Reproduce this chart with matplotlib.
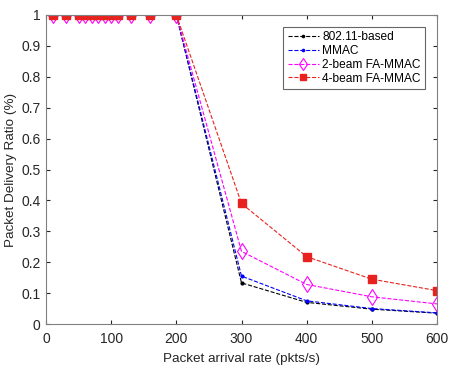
import matplotlib
matplotlib.use("Agg")
import matplotlib.pyplot as plt

plt.rcParams['font.family'] = ['Liberation Sans', 'DejaVu Sans']

x = [10, 30, 50, 60, 70, 80, 90, 100, 110, 130, 160, 200, 300, 400, 500, 600]
pdr_80211 = [1]*12 + [0.133, 0.070, 0.048, 0.035]
pdr_mmac = [1]*12 + [0.155, 0.075, 0.050, 0.036]
pdr_2beam = [1]*12 + [0.235, 0.128, 0.088, 0.065]
pdr_4beam = [1]*12 + [0.390, 0.218, 0.145, 0.108]

labels = ['802.11-based', 'MMAC', '2-beam FA-MMAC', '4-beam FA-MMAC']
xticks = [0, 100, 200, 300, 400, 500, 600]
yticks = [0, 0.1, 0.2, 0.3, 0.4, 0.5, 0.6, 0.7, 0.8, 0.9, 1]

fig = plt.figure(figsize=(4.58, 3.72), dpi=100)
ax = fig.add_axes([46/458, 1-324/372, (437-46)/458, (324-15)/372])

ax.plot(x, pdr_80211, '--', color='black', marker='.', markersize=4, lw=0.8, label=labels[0])
ax.plot(x, pdr_mmac, '--', color='blue', marker='.', markersize=4, lw=0.8, label=labels[1])
ax.plot(x, pdr_2beam, '--', color='#ff00ff', marker='d', markersize=8, mfc='none', mew=0.8, lw=0.8, label=labels[2])
ax.plot(x, pdr_4beam, '--', color='#e8231f', marker='s', markersize=6, mfc='#e8231f', lw=0.8, label=labels[3])

ax.set_xlim(0, 600)
ax.set_ylim(0, 1)
ax.set_xticks(xticks)
ax.set_yticks(yticks)
ax.set_yticklabels([f'{v:g}' for v in yticks])
ax.tick_params(direction='in', labelsize=10, colors='#262626', length=3, top=True, right=True,
               labeltop=False, labelright=False)
ax.tick_params(axis='x', pad=6)
ax.tick_params(axis='y', pad=4)
for s in ax.spines.values():
    s.set_color('#808080')
    s.set_linewidth(0.8)
ax.set_xlabel('Packet arrival rate (pkts/s)', fontsize=9.7, color='#262626', labelpad=5)
ax.set_ylabel('Packet Delivery Ratio (%)', fontsize=9.7, color='#262626', labelpad=3)

leg = ax.legend(loc='upper right', bbox_to_anchor=(0.969, 0.961), borderaxespad=0, fontsize=8.6,
                frameon=True, fancybox=False, edgecolor='#404040', borderpad=0.35, labelspacing=0.15,
                handlelength=2.6, handletextpad=0.3, markerscale=0.8)
leg.get_frame().set_linewidth(0.8)

fig.savefig('out.png', dpi=100)
